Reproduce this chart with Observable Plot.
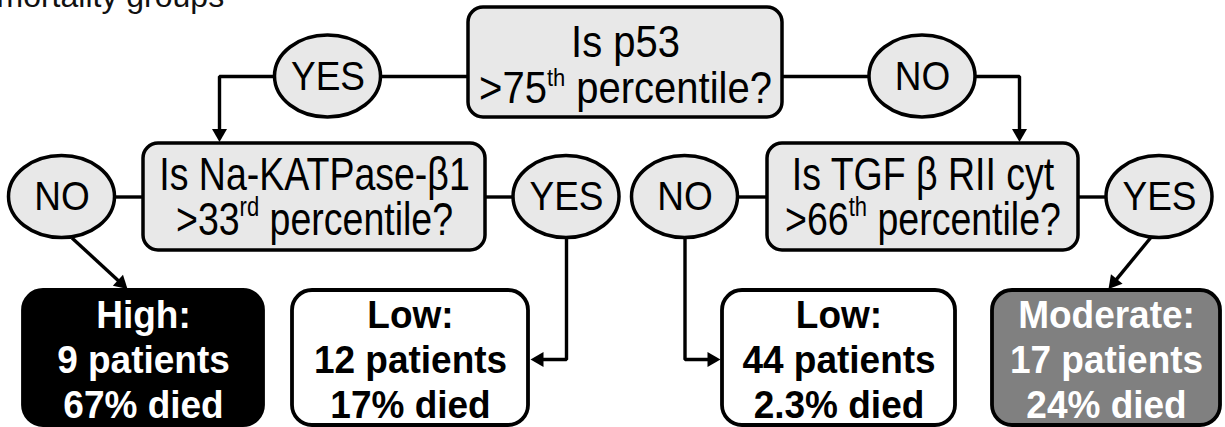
<!DOCTYPE html>
<html><head><meta charset="utf-8">
<script src="https://cdn.jsdelivr.net/npm/d3@7"></script>
<script src="https://cdn.jsdelivr.net/npm/@observablehq/plot@0.6"></script>
<style>html,body{margin:0;padding:0;background:#fff;overflow:hidden}</style>
</head><body><div id="chart"></div>
<script>
// ---------- data ----------
const questions = ["Is p53", "Is Na-KATPase-β1", "Is TGF β RII cyt"];
const thresholds = [">75^th^ percentile?", ">33^rd^ percentile?", ">66^th^ percentile?"];
const answerLabels = ["YES", "NO", "NO", "YES", "NO", "YES"];
const riskGroups = ["High:", "Low:", "Low:", "Moderate:"];
const patientCounts = ["9", "12", "44", "17"];
const percentDied = ["67", "17", "2.3", "24"];
const titleText = "mortality groups";

// ---------- layout (pixel frame) ----------
const W = 1225, H = 427;
const FONT = "'Liberation Sans', Arial, Helvetica, sans-serif";
const qLayout = [
  {x1: 468, x2: 782, y1: 7, y2: 117, b1: 56, b2: 102},
  {x1: 143, x2: 485, y1: 143, y2: 250, b1: 189, b2: 234},
  {x1: 767, x2: 1078, y1: 143, y2: 250, b1: 189, b2: 234}
];
const aLayout = [
  {cx: 327.5, cy: 76}, {cx: 922, cy: 76},
  {cx: 61.5, cy: 196.5}, {cx: 566, cy: 196.5},
  {cx: 684.5, cy: 196.5}, {cx: 1159, cy: 196.5}
];
const ERX = 53, ERY = 41;
const oLayout = [{x1: 23, x2: 263}, {x1: 292, x2: 528}, {x1: 722, x2: 955}, {x1: 992, x2: 1220}];
const oY1 = 290, oY2 = 425, oBase = [327, 372, 417];
const oFill = ["#000000", "#ffffff", "#ffffff", "#808080"];
const oInk = ["#ffffff", "#000000", "#000000", "#ffffff"];
const dropLeft = 219, dropRight = 1019, elbowY = 359;
const HEAD_H = 13;                       // arrowhead height (tip to base)
const HEAD_OFF = HEAD_H * 2 / 3;         // centroid distance from tip
const HEAD_R = Math.sqrt(3 * Math.sqrt(3) * (HEAD_H / 3) ** 2 / Math.PI);

// ---------- build tables ----------
const qBoxes = qLayout.map(l => ({...l, cx: (l.x1 + l.x2) / 2}));
const qLines = qBoxes.flatMap((b, i) => [
  {x: b.cx, y: b.b1, text: questions[i], row: i === 0 ? 0 : 1},
  {x: b.cx, y: b.b2, text: thresholds[i], row: i === 0 ? 0 : 1}
]);
const answers = aLayout.map((a, i) => ({
  x1: a.cx - ERX, x2: a.cx + ERX, y1: a.cy - ERY, y2: a.cy + ERY, cx: a.cx, cy: a.cy, label: answerLabels[i]
}));
const outcomes = oLayout.map((o, i) => ({
  x1: o.x1, x2: o.x2, y1: oY1, y2: oY2, cx: (o.x1 + o.x2) / 2, fill: oFill[i], ink: oInk[i]
}));
const oLines = outcomes.flatMap((o, i) => [
  {x: o.cx, y: oBase[0], text: riskGroups[i], ink: o.ink},
  {x: o.cx, y: oBase[1], text: `${patientCounts[i]} patients`, ink: o.ink},
  {x: o.cx, y: oBase[2], text: `${percentDied[i]}% died`, ink: o.ink}
]);

const [q0, q1, q2] = qBoxes;
const [a0, a1, a2, a3, a4, a5] = answers;
const [o0, o1, o2, o3] = outcomes;
const connectors = [
  {pts: [[q0.x1, a0.cy], [a0.x2, a0.cy]]},
  {pts: [[a0.x1, a0.cy], [dropLeft, a0.cy], [dropLeft, q1.y1 - 1.5]], arrow: true},
  {pts: [[q0.x2, a1.cy], [a1.x1, a1.cy]]},
  {pts: [[a1.x2, a1.cy], [dropRight, a1.cy], [dropRight, q2.y1 - 1.5]], arrow: true},
  {pts: [[q1.x1, a2.cy], [a2.x2, a2.cy]]},
  {pts: [[q1.x2, a3.cy], [a3.x1, a3.cy]]},
  {pts: [[a2.cx + 10, a2.y2], [o0.cx - 16, o0.y1 - 1.5]], arrow: true},
  {pts: [[a3.cx, a3.y2], [a3.cx, elbowY], [o1.x2 + 2, elbowY]], arrow: true},
  {pts: [[q2.x1, a4.cy], [a4.x2, a4.cy]]},
  {pts: [[a4.cx, a4.y2], [a4.cx, elbowY], [o2.x1 - 2, elbowY]], arrow: true},
  {pts: [[q2.x2, a5.cy], [a5.x1, a5.cy]]},
  {pts: [[a5.cx - 9, a5.y2], [o3.cx + 2, o3.y1 - 1.5]], arrow: true}
];
const segs = [], heads = [];
connectors.forEach((c, i) => {
  const pts = c.pts.map(p => p.slice());
  if (c.arrow) {
    const [x0, y0] = pts[pts.length - 2], [x1, y1] = pts[pts.length - 1];
    const len = Math.hypot(x1 - x0, y1 - y0), ux = (x1 - x0) / len, uy = (y1 - y0) / len;
    const hx = x1 - ux * HEAD_OFF, hy = y1 - uy * HEAD_OFF;
    pts[pts.length - 1] = [hx, hy];
    heads.push({x: hx, y: hy, rotate: Math.atan2(ux, -uy) * 180 / Math.PI});
  }
  pts.forEach(p => segs.push({id: i, x: p[0], y: p[1]}));
});

// ---------- plot ----------
const plot = Plot.plot({
  width: W, height: H, margin: 0,
  x: {domain: [0, W], range: [0, W], axis: null},
  y: {domain: [0, H], range: [0, H], axis: null},
  style: {background: "white", fontFamily: FONT, overflow: "hidden"},
  marks: [
    Plot.line(segs, {x: "x", y: "y", z: "id", stroke: "black", strokeWidth: 3.4, strokeLinejoin: "miter", strokeLinecap: "butt", curve: "linear"}),
    Plot.dot(heads, {x: "x", y: "y", rotate: "rotate", symbol: "triangle", r: HEAD_R, fill: "black", stroke: "none"}),
    Plot.rect(qBoxes, {x1: "x1", x2: "x2", y1: "y1", y2: "y2", fill: "#e8e8e8", stroke: "black", strokeWidth: 3.5, rx: 15}),
    Plot.rect(answers, {x1: "x1", x2: "x2", y1: "y1", y2: "y2", fill: "#e8e8e8", stroke: "black", strokeWidth: 3.5, rx: ERX, ry: ERY}),
    Plot.rect(outcomes, {x1: "x1", x2: "x2", y1: "y1", y2: "y2", fill: "fill", stroke: "black", strokeWidth: 3.8, rx: 20}),
    Plot.text(qLines.filter(d => d.row === 0), {x: "x", y: "y", text: "text", fontSize: 40, lineAnchor: "bottom", fill: "black", fontFamily: FONT}),
    Plot.text(qLines.filter(d => d.row === 1), {x: "x", y: "y", text: "text", fontSize: 37.5, lineAnchor: "bottom", fill: "black", fontFamily: FONT}),
    Plot.text(answers, {x: "cx", y: "cy", text: "label", fontSize: 37, lineAnchor: "middle", fill: "black", fontFamily: FONT}),
    Plot.text(oLines, {x: "x", y: "y", text: "text", fontSize: 37, fontWeight: "bold", lineAnchor: "bottom", fill: "ink", fontFamily: FONT}),
    Plot.text([titleText], {frameAnchor: "top-left", textAnchor: "start", lineAnchor: "bottom", dx: -4, dy: 6, fontSize: 32, fill: "#111", fontFamily: FONT})
  ]
});

// vertical stretch of the tall-looking labels, matched by content (anchor offsets kept)
const stretchBy = new Map();
qLines.forEach(d => stretchBy.set(d.text, d.row === 0 ? 1.12 : 1.24));
answerLabels.forEach(t => stretchBy.set(t, 1.1));
oLines.forEach(d => stretchBy.set(d.text, 1.05));
d3.select(plot).selectAll("text").each(function () {
  const k = stretchBy.get(this.textContent);
  if (!k) return;
  const t = this.getAttribute("transform") || "";
  this.setAttribute("transform", `${t} scale(1,${k})`);
});
// superscripts (^...^) as tspans
d3.select(plot).selectAll("text").each(function () {
  const t = this.textContent;
  if (!t.includes("^")) return;
  const parts = t.split("^");
  const el = d3.select(this).text("").style("white-space", "pre");
  parts.forEach((p, k) => {
    if (!p) return;
    const ts = el.append("tspan").text(p);
    if (k % 2 === 1) ts.attr("font-size", 22).attr("dy", -15);
    else if (k > 0) ts.attr("dy", 15);
  });
});
document.getElementById("chart").appendChild(plot);
</script></body></html>
